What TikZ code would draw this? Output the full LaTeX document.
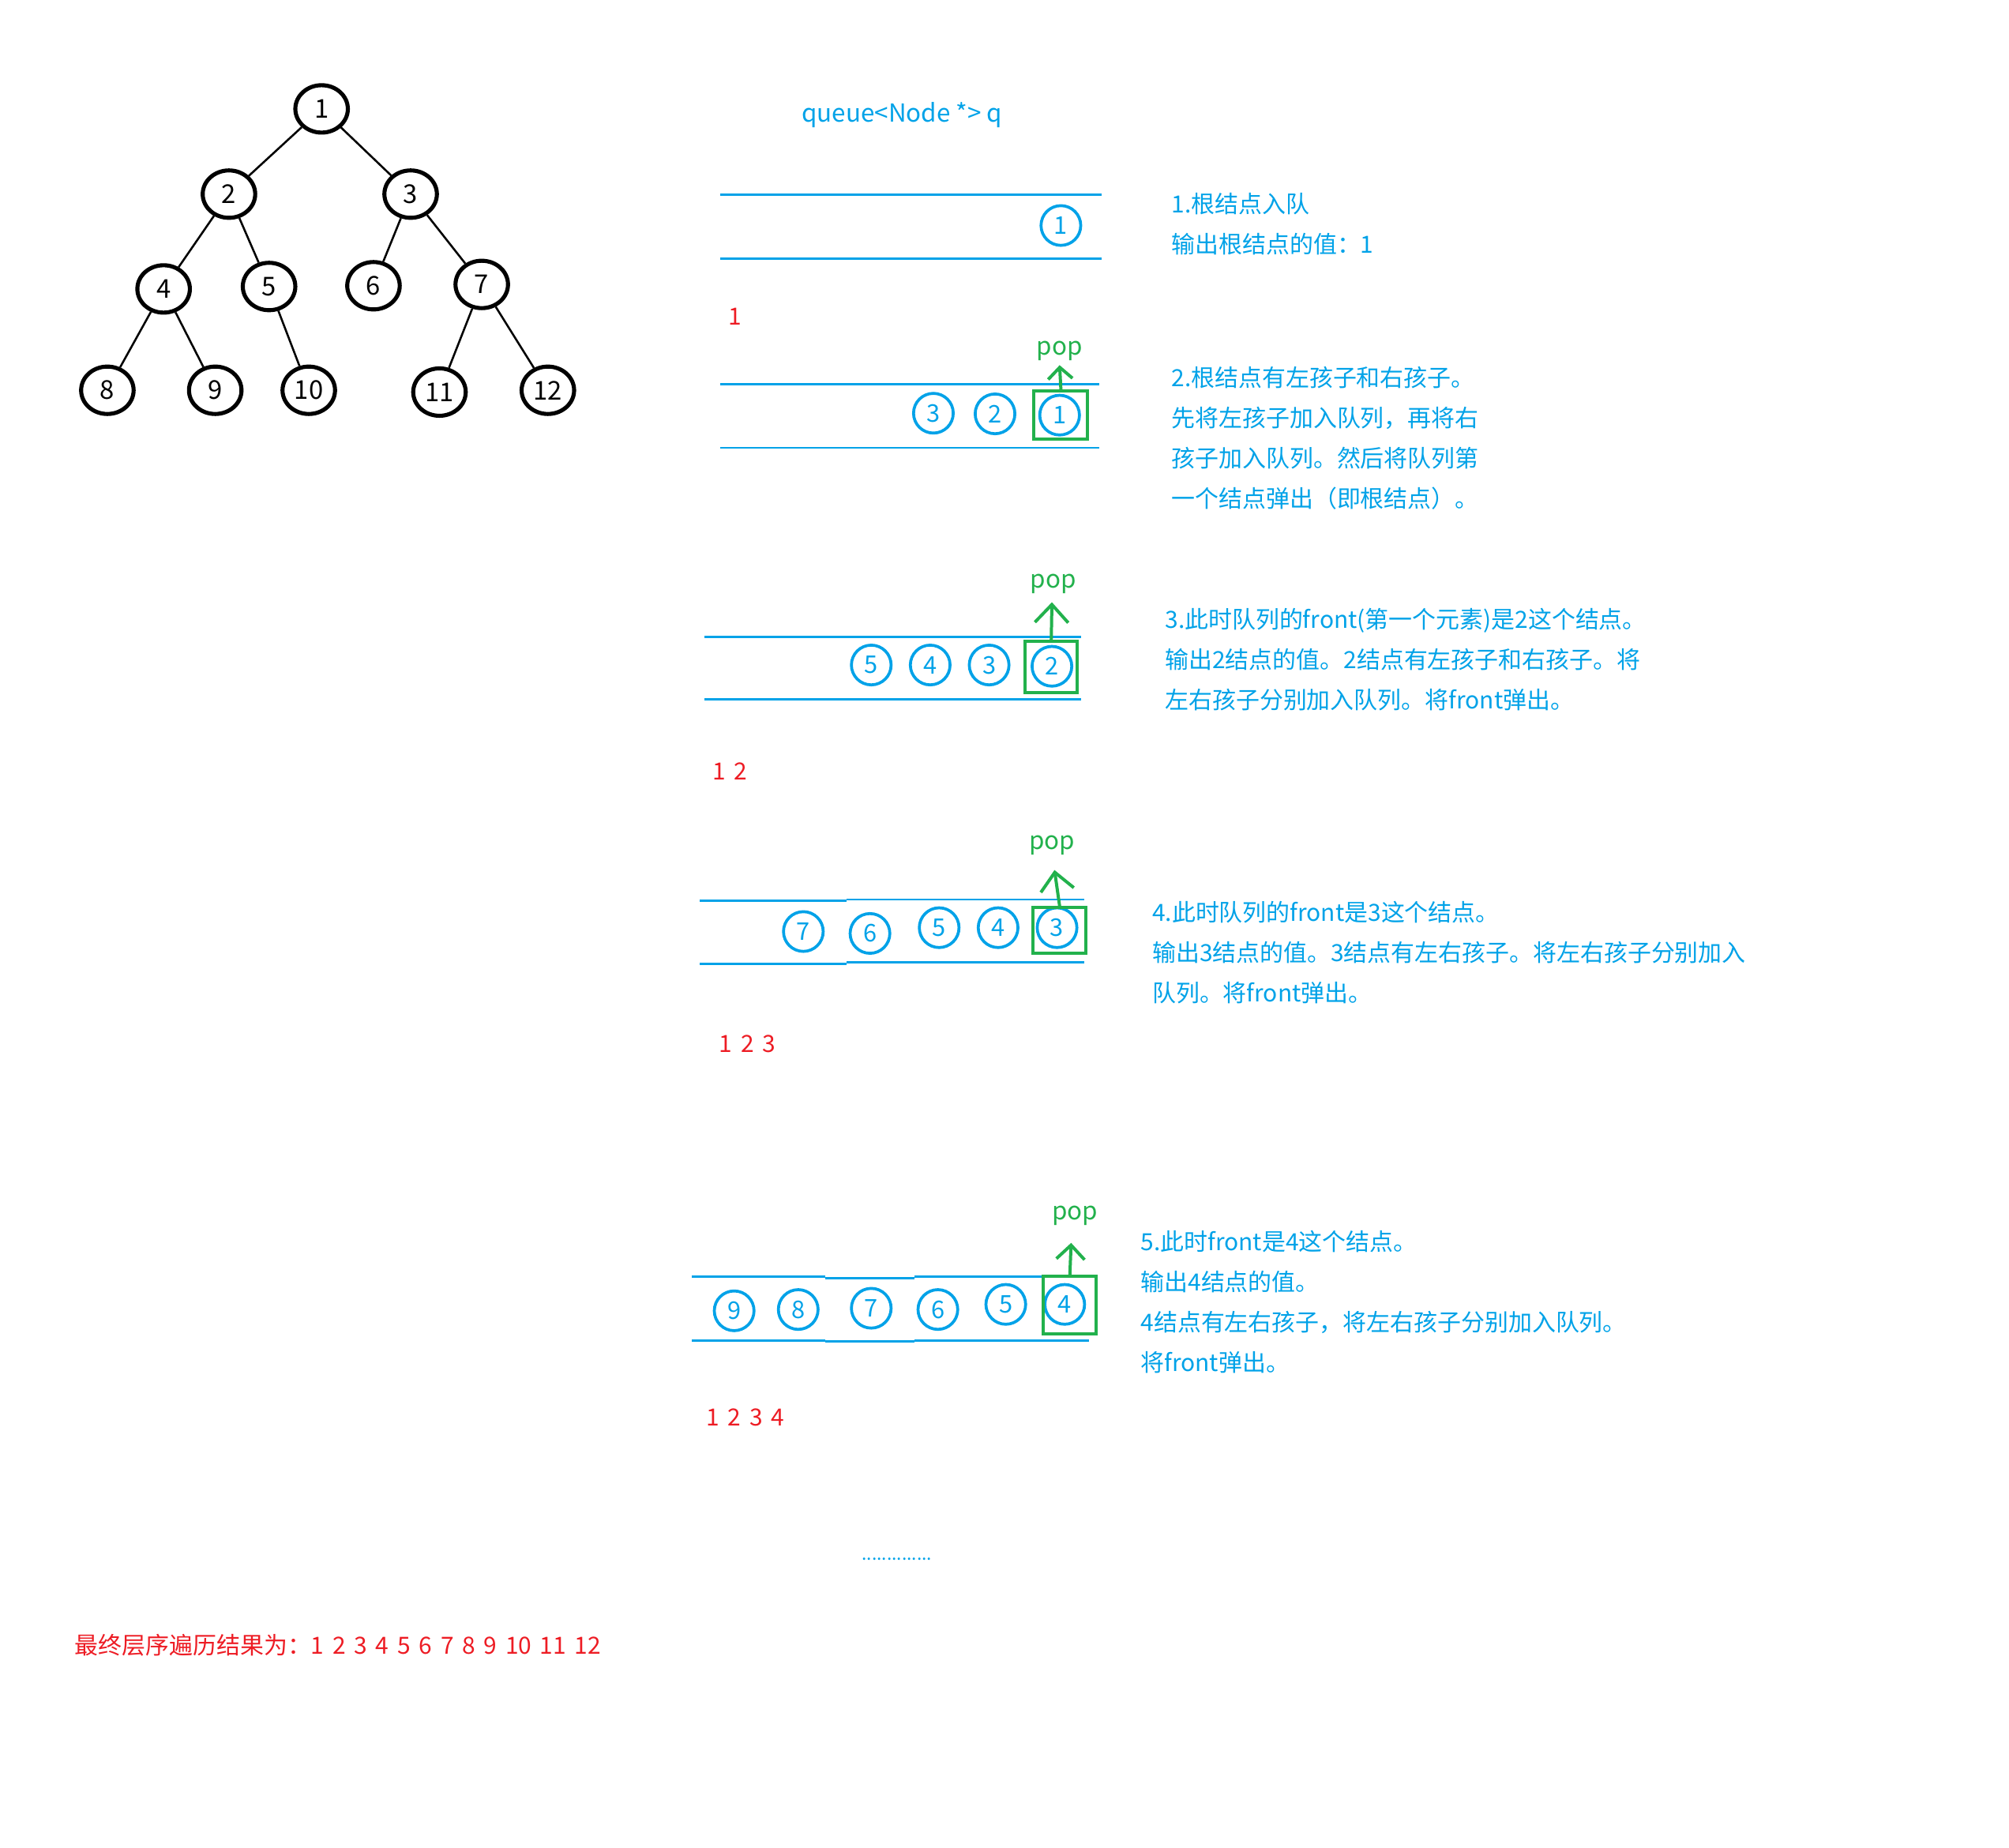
\documentclass[tikz,border=0pt]{standalone}
\usepackage{fontspec}
\setmainfont{Noto Sans CJK SC}
\newfontfamily\outfont[WordSpace=1.6]{Noto Sans CJK SC}
\usepackage{tikz}
\usetikzlibrary{positioning, arrows.meta, shapes.geometric}
\definecolor{PaintBlue}{RGB}{0,162,232}
\definecolor{PaintGreen}{RGB}{34,177,76}
\definecolor{PaintRed}{RGB}{237,28,36}
\tikzset{
  tnode/.style={ellipse, draw=black, line width=1.8pt, minimum width=0.82cm, minimum height=0.74cm,
    inner sep=0pt, font=\fontsize{11.5}{12}\selectfont},
  tedge/.style={line width=0.9pt, black},
  qnode/.style={circle, draw=PaintBlue, line width=1.3pt, minimum size=0.62cm, inner sep=0pt,
    text=PaintBlue, font=\fontsize{10.8}{12}\selectfont},
  qwall/.style={PaintBlue, line width=1pt},
  popbox/.style={draw=PaintGreen, line width=1.4pt, inner sep=0pt},
  poparrow/.style={-{Straight Barb[length=0.28cm, width=0.52cm]}, PaintGreen, line width=1.4pt, line cap=round},
  poplab/.style={text=PaintGreen, font=\fontsize{11}{12}\selectfont, inner sep=0pt},
  outtxt/.style={text=PaintRed, font=\outfont\fontsize{10.5}{12}\selectfont, inner sep=0pt, anchor=west},
  desc/.style={text=PaintBlue, font=\fontsize{10.5}{17.9}\selectfont, inner sep=0pt, anchor=west, align=left},
}

\begin{document}
\begin{tikzpicture}[x=0.02cm, y=-0.02cm]
  \useasboundingbox (0,0) rectangle (1568,1442);
  % binary tree
  \node[tnode] (t1) at (251,85) {1};
  \node[tnode] (t2) at (178.7,151.5) {2};
  \node[tnode] (t3) at (320.5,151.5) {3};
  \node[tnode] (t4) at (127.7,225.5) {4};
  \node[tnode] (t5) at (210,223.6) {5};
  \node[tnode] (t6) at (291.5,223) {6};
  \node[tnode] (t7) at (376,222) {7};
  \node[tnode] (t8) at (83.8,304.6) {8};
  \node[tnode] (t9) at (168,304.6) {9};
  \node[tnode] (t10) at (241,304.6) {10};
  \node[tnode] (t11) at (343,306) {11};
  \node[tnode] (t12) at (427.6,304.6) {12};
  \foreach \a/\b in {1/2,1/3,2/4,2/5,3/6,3/7,4/8,4/9,5/10,7/11,7/12}
    \draw[tedge] (t\a) -- (t\b);

  \node[text=PaintBlue, font=\fontsize{11}{12}\selectfont] (title) at (704,90) {queue<Node *> q};

  % step 1
  \draw[qwall] (562,152) -- (860,152) (562,202) -- (860,202);
  \node[qnode] (q1-1) at (828,176) {1};
  \node[outtxt] (out1) at (568,247) {1};
  \node[desc] (desc1) at (914,175) {1.根结点入队\\输出根结点的值：1};

  % step 2
  \draw[qwall] (562,300) -- (858,300) (562,349.5) -- (858,349.5);
  \foreach \v/\x/\y in {3/728.5/322.5, 2/776.6/323, 1/827/324}
    \node[qnode] (q2-\v) at (\x,\y) {\v};
  \node[popbox, minimum width=0.84cm, minimum height=0.76cm] (box2) at (828,324) {};
  \coordinate (tip2) at (827,285);
  \node[poplab] (pop2) at (827,274) {pop};
  \draw[poparrow, -{Straight Barb[length=0.18cm, width=0.38cm]}] (box2.north) -- (tip2);
  \node[desc] (desc2) at (914,342) {2.根结点有左孩子和右孩子。\\先将左孩子加入队列，再将右\\孩子加入队列。然后将队列第\\一个结点弹出（即根结点）。};

  % step 3
  \draw[qwall] (550,497) -- (844,497) (550,546) -- (844,546);
  \foreach \v/\x/\y in {5/680/519, 4/726/519, 3/772/519, 2/821/520}
    \node[qnode] (q3-\v) at (\x,\y) {\v};
  \node[popbox, minimum width=0.81cm, minimum height=0.81cm] (box3) at (820.5,520.5) {};
  \coordinate (tip3) at (821,470);
  \node[poplab] (pop3) at (822,456) {pop};
  \draw[poparrow] (box3.north) -- (tip3);
  \node[outtxt] (out3) at (556,602) {1 2};
  \node[desc] (desc3) at (909,514.5) {3.此时队列的front(第一个元素)是2这个结点。\\输出2结点的值。2结点有左孩子和右孩子。将\\左右孩子分别加入队列。将front弹出。};

  % step 4
  \draw[qwall] (546,702.7) -- (661,702.7) (661,702) -- (846,702)
    (546,752) -- (661,752) (661,751) -- (846,751);
  \foreach \v/\x/\y in {7/627/727, 6/679/728.5, 5/733/724, 4/779/724, 3/825/724}
    \node[qnode] (q4-\v) at (\x,\y) {\v};
  \node[popbox, minimum width=0.83cm, minimum height=0.71cm] (box4) at (827,726) {};
  \coordinate (tip4) at (823,679);
  \node[poplab] (pop4) at (821,660) {pop};
  \draw[poparrow] (box4.north) -- (tip4);
  \node[outtxt] (out4) at (561,815) {1 2 3};
  \node[desc] (desc4) at (899,743.5) {4.此时队列的front是3这个结点。\\输出3结点的值。3结点有左右孩子。将左右孩子分别加入\\队列。将front弹出。};

  % step 5
  \draw[qwall] (540,996.5) -- (644,996.5) (644,997.5) -- (714,997.5) (714,996.5) -- (813,996.5)
    (540,1046) -- (644,1046) (644,1047) -- (714,1047) (714,1046) -- (850,1046);
  \foreach \v/\x/\y in {9/573/1023, 8/623/1022, 7/680/1021, 6/732/1022, 5/785/1018, 4/831/1018}
    \node[qnode] (q5-\v) at (\x,\y) {\v};
  \node[popbox, minimum width=0.83cm, minimum height=0.89cm] (box5) at (835,1018.5) {};
  \coordinate (tip5) at (836,970);
  \node[poplab] (pop5) at (839,949) {pop};
  \draw[poparrow, -{Straight Barb[length=0.22cm, width=0.44cm]}] (box5.north) -- (tip5);
  \node[outtxt] (out5) at (551,1106) {1 2 3 4};
  \node[desc] (desc5) at (890,1016) {5.此时front是4这个结点。\\输出4结点的值。\\4结点有左右孩子，将左右孩子分别加入队列。\\将front弹出。};

  \node[text=PaintBlue, font=\fontsize{8}{10}\selectfont, inner sep=0pt] (dots) at (700,1217) {..............};
  \node[outtxt] (result) at (58,1284) {最终层序遍历结果为：1 2 3 4 5 6 7 8 9 10 11 12};
\end{tikzpicture}
\end{document}
